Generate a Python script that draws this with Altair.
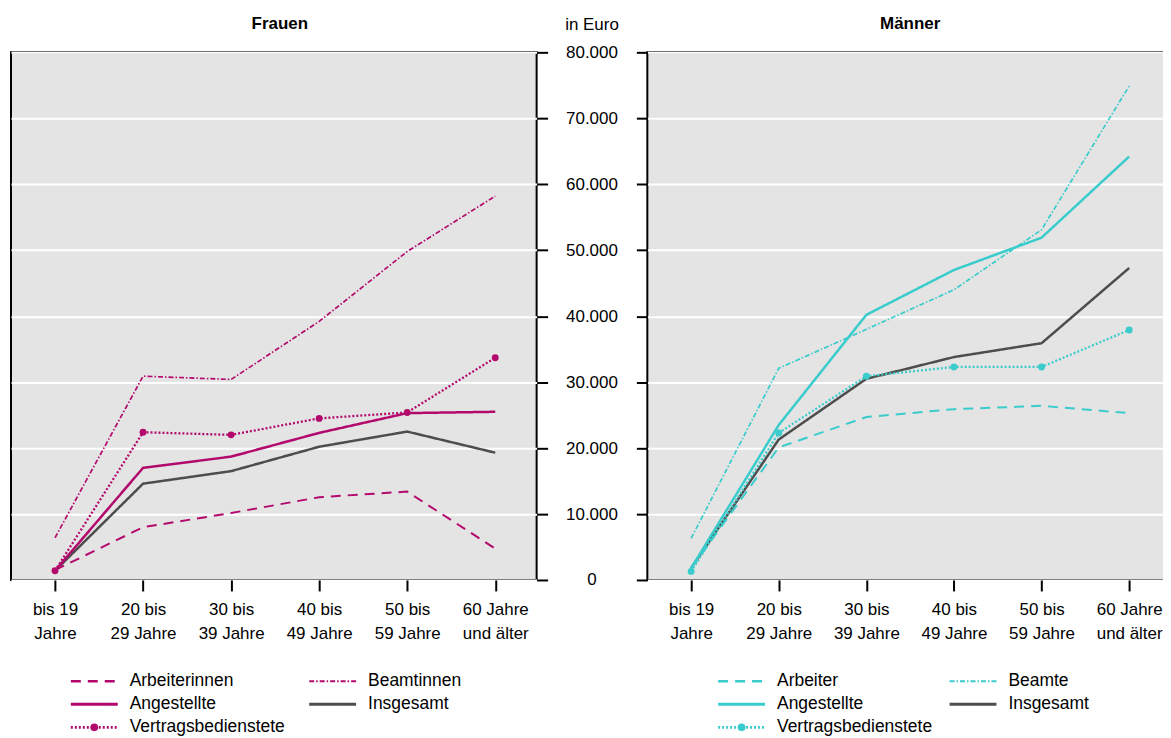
import altair as alt
import pandas as pd

# ---------------- data ----------------
age_labels = ["bis 19|Jahre", "20 bis|29 Jahre", "30 bis|39 Jahre",
              "40 bis|49 Jahre", "50 bis|59 Jahre", "60 Jahre|und älter"]

frauen_names = ["Arbeiterinnen", "Beamtinnen", "Angestellte", "Insgesamt", "Vertragsbedienstete"]
f_arbeiterinnen = [1500, 8000, 10150, 12550, 13400, 4750]
f_beamtinnen = [6400, 30900, 30400, 39200, 49800, 58200]
f_angestellte = [1400, 17000, 18700, 22300, 25300, 25500]
f_insgesamt = [1400, 14600, 16500, 20200, 22500, 19300]
f_vertrag = [1400, 22400, 22000, 24500, 25400, 33700]

maenner_names = ["Arbeiter", "Beamte", "Angestellte", "Insgesamt", "Vertragsbedienstete"]
m_arbeiter = [1800, 20100, 24700, 25900, 26400, 25300]
m_beamte = [6300, 32100, 38000, 44000, 53100, 74900]
m_angestellte = [1800, 23500, 40200, 47000, 51900, 64200]
m_insgesamt = [1800, 21300, 30500, 33800, 35900, 47300]
m_vertrag = [1300, 22300, 30900, 32300, 32300, 37900]

panel_titles = ["Frauen", "Männer"]
y_unit = "in Euro"

# ---------------- styles ----------------
FONT = "Liberation Sans, Arial, sans-serif"
FS = 17
MAGENTA = "#B3096D"
CYAN = "#3ACCCC"
GRAY = "#4D4D4D"
BG = "#E4E4E4"
DASHES = [[10, 7], [5, 2, 1.5, 2], [1, 0], [1, 0], [2, 2]]
WIDTHS = [2, 1.7, 2.5, 2.5, 2.3]
Y_MAX = 80000


def make_df(names, series):
    rows = []
    for name, vals in zip(names, series):
        for i, v in enumerate(vals):
            rows.append({"series": name, "i": i, "value": v})
    return pd.DataFrame(rows)


label_expr = "split([" + ",".join("'" + a + "'" for a in age_labels) + "][datum.value], '|')"


def panel(df, names, main, title, width, xdom, side, title_dx):
    colors = [main, main, main, GRAY, main]
    xaxis = alt.Axis(values=list(range(6)), labelExpr=label_expr, title=None, grid=False,
                     domain=False, ticks=True, tickSize=11, tickWidth=2, tickColor="black",
                     labelPadding=11, labelFontSize=FS, labelLineHeight=24,
                     labelColor="black", labelFont=FONT)
    if side == "left":
        yaxis = alt.Axis(orient="right", values=list(range(0, Y_MAX + 1, 10000)),
                         labelExpr="replace(format(datum.value, ','), ',', '.')",
                         grid=True, gridColor="white", gridWidth=2,
                         domain=False, ticks=True, tickSize=11, tickWidth=2, tickColor="black",
                         labelAlign="center", labelBaseline="middle", labelPadding=44,
                         labelFontSize=FS, labelColor="black", labelFont=FONT,
                         title=y_unit, titleAngle=0, titleAlign="center",
                         titleBaseline="alphabetic", titleX=55, titleY=-23,
                         titleFontSize=FS, titleFontWeight="normal", titleFont=FONT,
                         titleColor="black")
    else:
        yaxis = alt.Axis(orient="left", values=list(range(0, Y_MAX + 1, 10000)),
                         labels=False, grid=True, gridColor="white", gridWidth=2,
                         domain=False, ticks=True, tickSize=11, tickWidth=2, tickColor="black",
                         title=None)
    xs = alt.Scale(domain=xdom, nice=False, zero=False)
    ys = alt.Scale(domain=[0, Y_MAX], nice=False)
    layers = []
    order = [3, 0, 1, 2, 4]
    for k in order:
        name = names[k]
        layers.append(
            alt.Chart(df).transform_filter(alt.datum.series == name)
            .mark_line(color=colors[k], strokeDash=DASHES[k], strokeWidth=WIDTHS[k])
            .encode(x=alt.X("i:Q", scale=xs, axis=xaxis),
                    y=alt.Y("value:Q", scale=ys, axis=yaxis))
        )
    layers.append(
        alt.Chart(df).transform_filter(alt.datum.series == names[4])
        .mark_circle(size=48, color=main, opacity=1)
        .encode(x=alt.X("i:Q", scale=xs, axis=xaxis), y=alt.Y("value:Q", scale=ys, axis=yaxis))
    )
    # panel heading, centred over the plot area
    layers.append(
        alt.Chart(pd.DataFrame({"label": [title]}))
        .mark_text(font=FONT, fontSize=FS, fontWeight="bold", color="black",
                   align="center", baseline="alphabetic", dx=title_dx, dy=-23)
        .encode(x=alt.X(datum=(xdom[0] + xdom[1]) / 2, type="quantitative", scale=xs, axis=xaxis),
                y=alt.Y(datum=Y_MAX, type="quantitative", scale=ys, axis=yaxis),
                text="label:N")
    )
    view = alt.ViewBackground(fill=BG, stroke="black", strokeWidth=2)
    return alt.layer(*layers).properties(width=width, height=529, view=view)


def legend(names, main, width, x_off, col_step):
    colors = [main, main, main, GRAY, main]
    cols = [k % 2 for k in range(len(names))]
    rws = [k // 2 for k in range(len(names))]
    x0 = [x_off + c * col_step for c in cols]
    ldf = pd.DataFrame({
        "series": names, "row": rws,
        "x0": x0, "x1": [v + 47 for v in x0], "xm": [v + 23.5 for v in x0],
        "xt": [v + 59 for v in x0],
    })
    lx = alt.Scale(domain=[0, width], nice=False, zero=False)
    ly = alt.Scale(domain=[-0.5, 2.4], nice=False, zero=False, reverse=True)
    layers = []
    for k, name in enumerate(names):
        layers.append(
            alt.Chart(ldf).transform_filter(alt.datum.series == name)
            .mark_rule(color=colors[k], strokeDash=DASHES[k], strokeWidth=WIDTHS[k] + 0.4)
            .encode(x=alt.X("x0:Q", scale=lx, axis=None), x2="x1:Q",
                    y=alt.Y("row:Q", scale=ly, axis=None))
        )
    layers.append(
        alt.Chart(ldf).transform_filter(alt.datum.series == names[4])
        .mark_circle(size=60, color=main, opacity=1)
        .encode(x=alt.X("xm:Q", scale=lx, axis=None), y=alt.Y("row:Q", scale=ly, axis=None))
    )
    layers.append(
        alt.Chart(ldf).mark_text(align="left", baseline="middle", font=FONT, fontSize=17.5,
                                 color="black")
        .encode(x=alt.X("xt:Q", scale=lx, axis=None), y=alt.Y("row:Q", scale=ly, axis=None),
                text="series:N")
    )
    return alt.layer(*layers).properties(
        width=width, height=67, view=alt.ViewBackground(stroke="transparent", fill="transparent"))


df_f = make_df(frauen_names, [f_arbeiterinnen, f_beamtinnen, f_angestellte, f_insgesamt, f_vertrag])
df_m = make_df(maenner_names, [m_arbeiter, m_beamte, m_angestellte, m_insgesamt, m_vertrag])

left = alt.vconcat(
    panel(df_f, frauen_names, MAGENTA, panel_titles[0], 527, [-0.5, 5.47], "left", 6),
    legend(frauen_names, MAGENTA, 527, 60, 239),
    spacing=26,
).resolve_scale(x="independent", y="independent")

right = alt.vconcat(
    panel(df_m, maenner_names, CYAN, panel_titles[1], 527, [-0.5, 5.5], "right", 0),
    legend(maenner_names, CYAN, 527, 71, 232),
    spacing=26,
).resolve_scale(x="independent", y="independent")

chart = alt.hconcat(left, right, spacing=15).resolve_scale(
    x="independent", y="independent"
).properties(
    padding={"left": 2, "top": 5.5, "right": -11, "bottom": 4}
).configure(font=FONT, background="white")

chart.save("out.html", embed_options={"renderer": "svg", "actions": False})
